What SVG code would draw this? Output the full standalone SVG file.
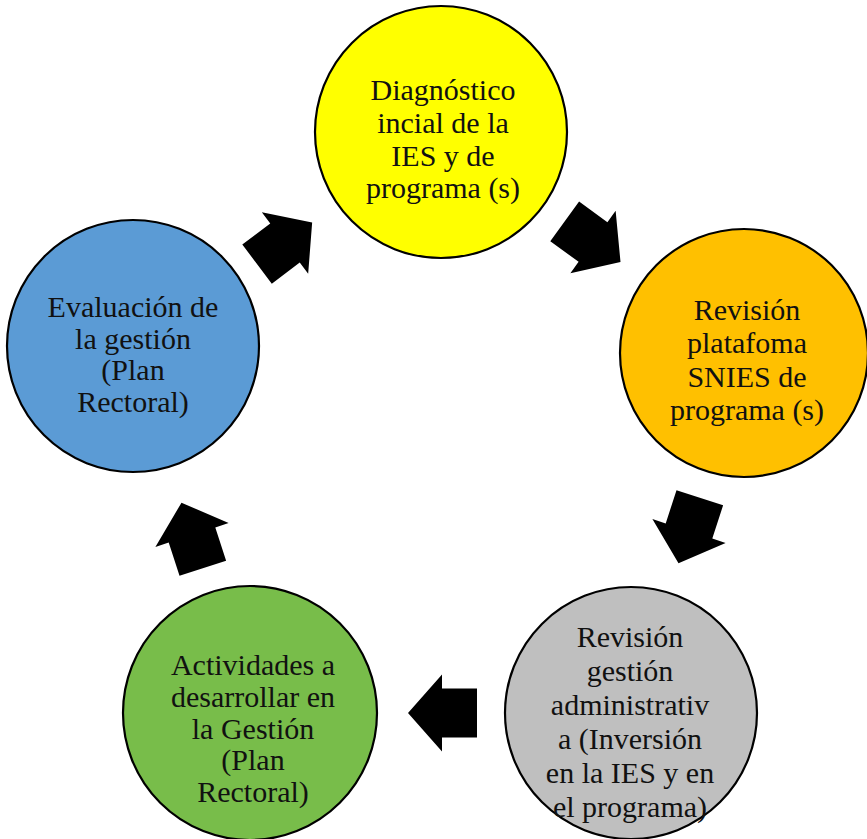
<svg xmlns="http://www.w3.org/2000/svg" width="867" height="839" viewBox="0 0 867 839">
  <defs>
    <path id="arrow" d="M -35,-24.5 L 0,-24.5 L 0,-38.5 L 34,0 L 0,38.5 L 0,24.5 L -35,24.5 Z"/>
  </defs>
  <style>
    .node circle { stroke: #000; stroke-width: 2.2; }
    .node text { font-family: "Liberation Serif", "Times New Roman", serif; font-size: 30px; fill: #111; text-anchor: middle; }
    #connectors use { fill: #000; }
  </style>
  <rect width="867" height="839" fill="#fff"/>

  <g id="connectors">
    <use href="#arrow" transform="translate(285,243) rotate(-37)"/>
    <use href="#arrow" transform="translate(593,242) rotate(36)"/>
    <use href="#arrow" transform="translate(689,531) rotate(108)"/>
    <use href="#arrow" transform="translate(442,713) rotate(180)"/>
    <use href="#arrow" transform="translate(192,535) rotate(252)"/>
  </g>

  <g id="node-diagnostico" class="node">
    <circle cx="441" cy="132" r="126" fill="#FFFF00"/>
    <text x="443" y="100">Diagnóstico</text>
    <text x="443" y="133">incial de la</text>
    <text x="443" y="166">IES y de</text>
    <text x="443" y="198">programa (s)</text>
  </g>

  <g id="node-snies" class="node">
    <circle cx="744" cy="353" r="124" fill="#FFC000"/>
    <text x="747" y="320">Revisión</text>
    <text x="747" y="353">platafoma</text>
    <text x="747" y="387">SNIES de</text>
    <text x="747" y="420">programa (s)</text>
  </g>

  <g id="node-gestion-admin" class="node">
    <circle cx="631" cy="713" r="126" fill="#BFBFBF"/>
    <text x="630" y="647">Revisión</text>
    <text x="630" y="681">gestión</text>
    <text x="630" y="715">administrativ</text>
    <text x="630" y="749">a (Inversión</text>
    <text x="630" y="783">en la IES y en</text>
    <text x="630" y="817">el programa)</text>
  </g>

  <g id="node-actividades" class="node">
    <circle cx="250" cy="713" r="127" fill="#78BD4A"/>
    <text x="253" y="675">Actividades a</text>
    <text x="253" y="707">desarrollar en</text>
    <text x="253" y="739">la Gestión</text>
    <text x="253" y="770">(Plan</text>
    <text x="253" y="802">Rectoral)</text>
  </g>

  <g id="node-evaluacion" class="node">
    <circle cx="133" cy="346" r="126" fill="#5B9BD5"/>
    <text x="133" y="317">Evaluación de</text>
    <text x="133" y="349">la gestión</text>
    <text x="133" y="380">(Plan</text>
    <text x="133" y="412">Rectoral)</text>
  </g>
</svg>
